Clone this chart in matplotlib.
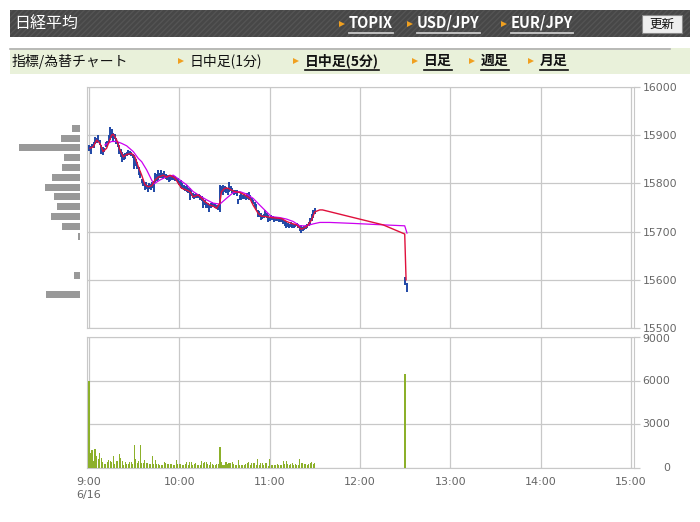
import matplotlib
matplotlib.use('Agg')
import matplotlib.pyplot as plt
from matplotlib.patches import Rectangle
from matplotlib.lines import Line2D
from matplotlib.transforms import blended_transform_factory

W, H = 700, 522

# ---------------- data ----------------
title = "日経平均"
links = ["TOPIX", "USD/JPY", "EUR/JPY"]
button_label = "更新"
menu_label = "指標/為替チャート"
period_labels = ["日中足(1分)", "日中足(5分)", "日足", "週足", "月足"]

time_ticks = [0, 60, 120, 180, 240, 300, 360]          # minutes after 9:00
time_labels = ["9:00\n6/16", "10:00", "11:00", "12:00", "13:00", "14:00", "15:00"]
price_ticks = [15500, 15600, 15700, 15800, 15900, 16000]
volume_ticks = [0, 3000, 6000, 9000]

candle_minutes = list(range(0, 151)) + [210, 211]
candle_high = [
    15880, 15878, 15882, 15885, 15896, 15894, 15900, 15890, 15879, 15876,
    15874, 15886, 15888, 15900, 15917, 15912, 15905, 15902, 15895, 15886,
    15880, 15872, 15865, 15860, 15864, 15866, 15870, 15868, 15866, 15862,
    15859, 15850, 15845, 15834, 15826, 15810, 15806, 15801, 15803, 15797,
    15800, 15798, 15802, 15805, 15822, 15820, 15828, 15822, 15828, 15822,
    15826, 15820, 15818, 15817, 15818, 15816, 15817, 15815, 15812, 15812,
    15806, 15807, 15800, 15797, 15795, 15797, 15790, 15790, 15786, 15780,
    15779, 15780, 15778, 15778, 15776, 15774, 15770, 15766, 15761, 15760,
    15755, 15760, 15762, 15760, 15760, 15756, 15755, 15797, 15795, 15797,
    15794, 15792, 15790, 15803, 15795, 15790, 15786, 15787, 15786, 15768,
    15776, 15780, 15776, 15778, 15776, 15780, 15782, 15776, 15770, 15766,
    15762, 15758, 15745, 15742, 15738, 15734, 15736, 15745, 15738, 15734,
    15730, 15734, 15732, 15730, 15730, 15729, 15730, 15728, 15729, 15724,
    15722, 15721, 15718, 15716, 15720, 15718, 15716, 15716, 15718, 15716,
    15712, 15714, 15710, 15712, 15714, 15716, 15720, 15728, 15736, 15745, 15748,
    15606, 15593]
candle_low = [
    15868, 15862, 15876, 15874, 15882, 15884, 15886, 15880, 15860, 15858,
    15866, 15876, 15878, 15884, 15890, 15895, 15888, 15892, 15882, 15876,
    15862, 15855, 15844, 15848, 15850, 15856, 15858, 15858, 15857, 15852,
    15830, 15836, 15830, 15817, 15812, 15800, 15795, 15786, 15789, 15783,
    15788, 15786, 15790, 15783, 15801, 15806, 15807, 15812, 15811, 15810,
    15812, 15810, 15808, 15802, 15806, 15808, 15808, 15806, 15804, 15800,
    15796, 15790, 15788, 15786, 15784, 15783, 15780, 15766, 15774, 15770,
    15768, 15770, 15769, 15770, 15766, 15763, 15749, 15755, 15748, 15750,
    15741, 15750, 15752, 15752, 15748, 15746, 15745, 15741, 15782, 15776,
    15782, 15780, 15776, 15782, 15784, 15780, 15776, 15778, 15774, 15758,
    15765, 15766, 15768, 15768, 15766, 15768, 15766, 15766, 15760, 15758,
    15752, 15745, 15730, 15730, 15724, 15726, 15728, 15731, 15728, 15720,
    15722, 15724, 15724, 15720, 15722, 15722, 15720, 15720, 15720, 15716,
    15712, 15707, 15710, 15708, 15710, 15708, 15708, 15710, 15712, 15708,
    15702, 15697, 15702, 15704, 15706, 15708, 15712, 15714, 15722, 15728, 15736,
    15589, 15575]

# short moving average (red)
ma_short_t = [0.7, 2.9, 5.1, 7.3, 9.4, 11.7, 15, 16.1, 18.4, 20.6, 22.8, 25, 28.3,
              30.5, 32.7, 35, 37.2, 39.4, 41.6, 43.8, 46, 49.3, 51.6, 53.8, 57.1,
              59.3, 61.5, 64.8, 67, 69.2, 72.5, 74.8, 77, 80.3, 82.5, 84.7, 86.9,
              88, 90.2, 92.4, 94.7, 96.9, 100.2, 103.5, 106.8, 109, 112.3, 114.5,
              117.9, 121.2, 124.5, 127.9, 131.2, 134.5, 137.8, 141.1, 144.5, 147.8,
              150, 153.3, 155.1, 173.2, 195.3, 209.7, 210.6]
ma_short_v = [15873, 15876, 15890, 15883, 15866, 15873, 15900, 15902, 15890, 15869,
              15855, 15860, 15862, 15855, 15835, 15817, 15797, 15793, 15795, 15807,
              15813, 15817, 15813, 15817, 15811, 15800, 15790, 15786, 15783, 15772,
              15776, 15769, 15762, 15755, 15753, 15748, 15759, 15783, 15790, 15790,
              15786, 15783, 15781, 15776, 15769, 15755, 15738, 15732, 15731, 15729,
              15728, 15727, 15721, 15717, 15714, 15705, 15710, 15724, 15741, 15745,
              15745, 15731, 15714, 15695, 15600]

# long moving average (magenta)
ma_long_t = [10.6, 15, 18.4, 21.7, 25, 29.4, 32.7, 35, 38.3, 41.6, 43.1, 47.1, 51.6,
             56, 60.4, 64.8, 69.2, 73.7, 78.1, 82.5, 86.9, 91.3, 95.8, 100.2, 104.6,
             109, 113.4, 117.9, 121.2, 126.8, 131.2, 135.6, 140, 144.5, 148.9, 153.3,
             160, 175.4, 195.3, 209.7, 211.2]
ma_long_v = [15880, 15887, 15887, 15883, 15878, 15866, 15852, 15845, 15828, 15807,
             15799, 15807, 15814, 15817, 15807, 15797, 15783, 15774, 15766, 15759,
             15757, 15769, 15781, 15783, 15778, 15769, 15755, 15741, 15731, 15729,
             15726, 15721, 15712, 15712, 15716, 15719, 15719, 15717, 15714, 15712,
             15697]

volume_minutes = list(range(0, 151)) + [210]
volume = [
    5950, 1030, 1260, 500, 1330, 850, 640, 1050, 660, 440,
    250, 300, 400, 570, 500, 390, 850, 300, 480, 480,
    980, 710, 500, 230, 410, 270, 270, 440, 390, 300,
    1600, 640, 340, 500, 1600, 340, 340, 570, 340, 340,
    250, 270, 850, 250, 570, 300, 250, 230, 230, 230,
    440, 370, 300, 300, 300, 300, 230, 200, 570, 300,
    300, 300, 230, 230, 300, 390, 230, 440, 440, 200,
    300, 370, 230, 230, 230, 500, 370, 440, 440, 300,
    230, 440, 300, 200, 230, 300, 300, 1420, 440, 230,
    200, 440, 270, 370, 370, 440, 300, 230, 230, 570,
    230, 230, 200, 200, 270, 370, 440, 200, 370, 370,
    370, 200, 640, 230, 370, 370, 200, 370, 370, 160,
    640, 230, 200, 230, 230, 300, 230, 230, 230, 500,
    300, 500, 300, 200, 300, 370, 200, 300, 230, 230,
    640, 370, 370, 300, 300, 230, 300, 370, 440, 300, 370,
    6450]

# price-volume profile (left)
profile_price = [15914, 15893, 15874, 15854, 15833, 15812, 15791, 15773, 15752,
                 15731, 15710, 15689, 15609, 15570]
profile_volume = [8, 19, 61, 16, 18, 28, 35, 26, 23, 29, 18, 2, 6, 34]

# ---------------- figure ----------------
fig = plt.figure(figsize=(W / 100, H / 100), dpi=100)
fig.patch.set_facecolor('white')
JP = ['Noto Sans CJK JP', 'DejaVu Sans']


def fx(x):
    return x / W


def fy(y):
    return 1 - y / H


def rect(x0, y0, x1, y1, **kw):
    r = Rectangle((fx(x0), fy(y1)), (x1 - x0) / W, (y1 - y0) / H,
                  transform=fig.transFigure, **kw)
    fig.add_artist(r)
    return r


def text(x, y, s, **kw):
    kw.setdefault('family', JP)
    return fig.text(fx(x), fy(y), s, va='center', **kw)


def tri(x, y):
    fig.add_artist(Line2D([fx(x)], [fy(y)], marker='>', markersize=4.2,
                          color='#f0a020', markeredgewidth=0,
                          transform=fig.transFigure))


# header band
rect(10, 10, 690, 37, facecolor='#474747', edgecolor='#545454', hatch='//////', lw=0)
text(14, 23, title, color='white', fontsize=11.5)
link_x = [349, 417, 511]
link_objs = []
for lx, s in zip(link_x, links):
    tri(lx - 7, 24)
    link_objs.append(text(lx, 23, s, color='white', fontsize=10.5, fontweight='bold'))
rect(642, 15, 682, 33, facecolor='#eeeeee', edgecolor='#8a8a8a', lw=0.8)
fig.text(fx(662), fy(24), button_label, ha='center', va='center', family=JP,
         fontsize=9, color='#111111')

# second band
rect(10, 48, 690, 74, facecolor='#e9f1da', lw=0)
fig.add_artist(Line2D([fx(10), fx(670)], [fy(48.5), fy(48.5)], color='#b0b0b0',
                      lw=1.2, transform=fig.transFigure))
text(12, 61, menu_label, color='#111111', fontsize=10)
period_x = [190, 305, 424, 481, 540]
period_objs = []
for i, (px_, s) in enumerate(zip(period_x, period_labels)):
    tri(px_ - 9, 61)
    bold = i > 0
    period_objs.append(text(px_, 61, s, color='#111111', fontsize=10,
                            fontweight='bold' if bold else 'normal'))

# ---------------- axes ----------------
GRID = '#c8c8c8'
LAB = '#666666'
X0, X1 = 87, 634
xmin = (X0 - 89) / (542 / 360)
xmax = (X1 - 89) / (542 / 360)

ax = fig.add_axes([fx(X0), fy(328), (X1 - X0) / W, (328 - 87) / H])
axv = fig.add_axes([fx(X0), fy(468), (X1 - X0) / W, (468 - 337) / H])
axp = fig.add_axes([fx(10), fy(328), 70 / W, (328 - 87) / H])

for a in (ax, axv):
    a.set_xlim(xmin, xmax)
    a.set_facecolor('white')
    for sp in a.spines.values():
        sp.set_color(GRID)
        sp.set_linewidth(0.8)
    a.set_xticks(time_ticks)
    a.grid(True, color=GRID, lw=0.9)
    a.set_axisbelow(True)
    a.yaxis.tick_right()
    a.tick_params(axis='y', length=4.3, width=0.9, color=GRID, pad=2.2,
                  labelsize=7.8, labelcolor=LAB)

# price pane
ax.set_ylim(15500, 16000)
ax.set_yticks(price_ticks)
ax.set_yticklabels([str(p) for p in price_ticks])
ax.tick_params(axis='x', length=0, labelbottom=False)
ax.vlines(candle_minutes, candle_low, candle_high, color='#1f47a6', lw=1.4, zorder=3)
ax.plot(ma_long_t, ma_long_v, color='#cc00f0', lw=0.9, zorder=4)
ax.plot(ma_short_t, ma_short_v, color='#e0103c', lw=1.0, zorder=5)

# volume pane
axv.set_ylim(0, 9000)
axv.set_yticks(volume_ticks)
axv.set_yticklabels([])
trans = blended_transform_factory(axv.transAxes, axv.transData)
for v in volume_ticks:
    axv.text(1 + (670 - X1) / (X1 - X0), v - (120 if v == 9000 else 0), str(v),
             transform=trans, ha='right', va='center', fontsize=7.8, color=LAB)
bar_widths = [0.7] * (len(volume_minutes) - 1) + [1.3]
axv.bar(volume_minutes, volume, width=bar_widths, color='#8cb02a', lw=0, zorder=3,
        antialiased=False)
axv.set_xticklabels(time_labels)
axv.tick_params(axis='x', length=0, pad=6.5, labelsize=8, labelcolor=LAB)
for lbl in axv.get_xticklabels():
    lbl.set_linespacing(1.35)

# volume profile
axp.barh(profile_price, profile_volume, height=14.5, color='#999999', lw=0)
axp.set_ylim(15500, 16000)
axp.set_xlim(70, 0)
axp.axis('off')

# underlines
fig.canvas.draw()
inv = fig.transFigure.inverted()
for t in link_objs:
    bb = t.get_window_extent().transformed(inv)
    fig.add_artist(Line2D([bb.x0, bb.x1], [fy(33), fy(33)], color='#c8c8c8', lw=1.3,
                          transform=fig.transFigure))
for t in period_objs[1:]:
    bb = t.get_window_extent().transformed(inv)
    fig.add_artist(Line2D([bb.x0, bb.x1], [fy(70), fy(70)], color='#111111', lw=1.2,
                          transform=fig.transFigure))

fig.savefig('out.png', dpi=100)
